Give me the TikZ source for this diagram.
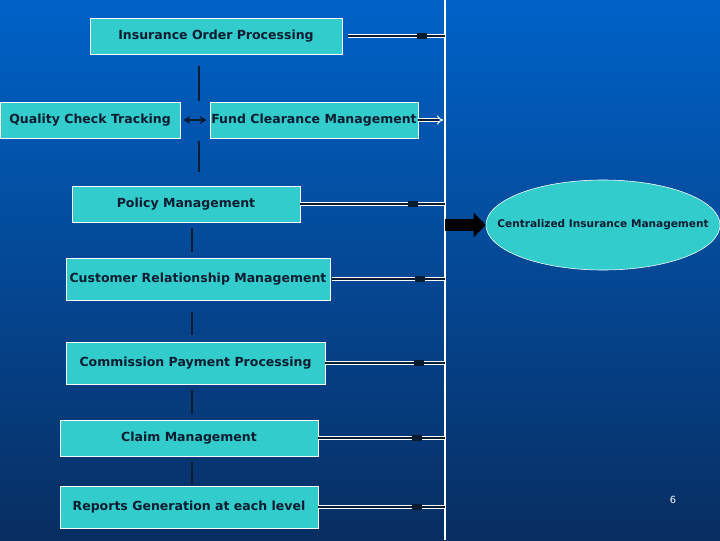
\documentclass[tikz,border=0pt]{standalone}
\usepackage{fontspec}
\setmainfont{DejaVu Sans}
\usetikzlibrary{positioning,arrows.meta,shapes,calc}
\usetikzlibrary{decorations.markings}
\definecolor{slidetop}{RGB}{0,98,200}
\definecolor{slidebot}{RGB}{8,46,98}
\definecolor{boxfill}{RGB}{51,204,204}
\definecolor{ink}{RGB}{10,28,48}
\tikzset{
  module/.style={draw=white, fill=boxfill, text=ink, inner sep=0pt,
    font=\bfseries\fontsize{8.9}{10}\selectfont},
  hub/.style={ellipse, draw=white, fill=boxfill, text=ink, inner ysep=0pt, inner xsep=-0.65cm,
    font=\bfseries\fontsize{7.5}{9}\selectfont},
  link/.style={draw=ink, line width=1.4pt},
  swap/.style={draw=ink, line width=1.4pt, {Stealth[length=5pt,width=6pt]}-{Stealth[length=5pt,width=6pt]}},
  feed/.style={draw=white, double=ink, double distance=1.4pt, line width=0.7pt, postaction={decorate},
    decoration={markings,mark=at position .78 with {\fill[ink] (-3.5pt,-1.8pt) rectangle (3.5pt,1.8pt);}}},
  fundfeed/.style={draw=white, double=ink, double distance=1.4pt, line width=0.7pt, -{Implies}},
  bigarrow/.style={draw=black, line width=8.5pt, -{Triangle[length=0.3cm,width=0.6cm]}},
  bus/.style={draw=white, line width=1.2pt}
}

\begin{document}
\begin{tikzpicture}[x=0.025cm,y=-0.025cm]
  \shade[top color=slidetop, bottom color=slidebot] (0,0) rectangle (720,540);
  \useasboundingbox (0,0) rectangle (720,540);
  % bus line
  \coordinate (bustop) at (445,0);
  \coordinate (busbot) at (445,540);
  \draw[bus] (bustop) -- (busbot);
  % modules
  \node[module, minimum width=6.3cm, minimum height=0.9cm] (iop) at (216,36) {Insurance Order Processing};
  \node[module, minimum width=4.5cm, minimum height=0.9cm] (qct) at (90,120) {Quality Check Tracking};
  \node[module, minimum width=5.2cm, minimum height=0.9cm] (fcm) at (314,120) {Fund Clearance Management};
  \node[module, minimum width=5.7cm, minimum height=0.9cm] (pm) at (186,204) {Policy Management};
  \node[module, minimum width=6.6cm, minimum height=1.05cm] (crm) at (198,279) {Customer Relationship Management};
  \node[module, minimum width=6.475cm, minimum height=1.05cm] (cpp) at (195.5,363) {Commission Payment Processing};
  \node[module, minimum width=6.45cm, minimum height=0.9cm] (cm) at (189,438) {Claim Management};
  \node[module, minimum width=6.45cm, minimum height=1.05cm] (rg) at (189,507) {Reports Generation at each level};
  \node[hub, minimum width=5.85cm, minimum height=2.25cm] (cim) at (603,225) {Centralized Insurance Management};
  \node[text=white, font=\fontsize{7}{8}\selectfont] (pgnum) at (673,500) {6};
  % links between modules
  \coordinate (junction) at (199,121);
  \coordinate (spine) at (192,0);
  \draw[link, shorten <=0.3cm, shorten >=0.5cm] (junction |- iop.south) -- (junction);
  \draw[link, shorten <=0.5cm, shorten >=0.35cm] (junction) -- (junction |- pm.north);
  \draw[swap, shorten <=0.08cm, shorten >=0.08cm] (qct.east) -- (fcm.west);
  \draw[link, shorten <=0.15cm, shorten >=0.15cm] (spine |- pm.south) -- (spine |- crm.north);
  \draw[link, shorten <=0.3cm, shorten >=0.18cm] (spine |- crm.south) -- (spine |- cpp.north);
  \draw[link, shorten <=0.15cm, shorten >=0.15cm] (spine |- cpp.south) -- (spine |- cm.north);
  \draw[link, shorten <=0.15cm, shorten >=0.02cm] (spine |- cm.south) -- (spine |- rg.north);
  % feeds into the bus
  \draw[feed, shorten <=0.15cm] (iop.east) -- (iop.east -| bustop);
  \draw[fundfeed, shorten >=0.05cm] (fcm.east) -- (fcm.east -| bustop);
  \draw[feed] (pm.east) -- (pm.east -| bustop);
  \draw[feed, shorten <=0.05cm] (crm.east) -- (crm.east -| bustop);
  \draw[feed] (cpp.east) -- (cpp.east -| bustop);
  \draw[feed] (cm.east) -- (cm.east -| bustop);
  \draw[feed] (rg.east) -- (rg.east -| bustop);
  \draw[bigarrow] (cim.west -| bustop) -- (cim.west);
\end{tikzpicture}
\end{document}
